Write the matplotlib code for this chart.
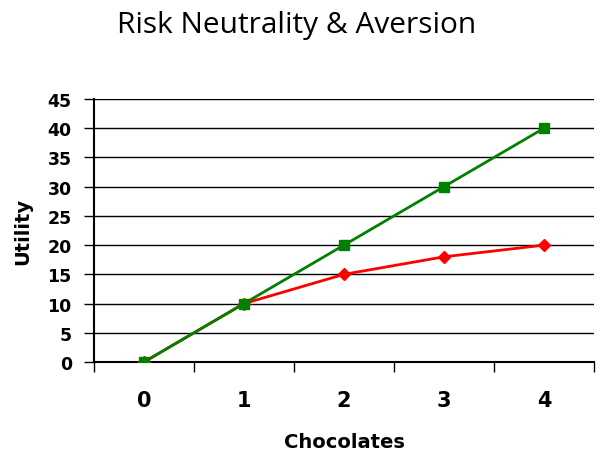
import matplotlib
matplotlib.use("Agg")
import matplotlib.pyplot as plt
import numpy as np

chocolates = [0, 1, 2, 3, 4]
neutral = [0, 10, 20, 30, 40]
averse = [0, 10, 15, 18, 20]
yticks = [0, 5, 10, 15, 20, 25, 30, 35, 40, 45]

plt.rcParams["font.family"] = "DejaVu Sans"
plt.rcParams["font.weight"] = "bold"

fig = plt.figure(figsize=(6.01, 4.52), dpi=100)
ax = fig.add_axes([94 / 601, 1 - 363 / 452, 500 / 601, 263 / 452])

x = np.arange(len(chocolates))
ax.plot(x, averse, color="#ff0000", lw=2, marker="D", ms=6, zorder=3)
ax.plot(x, neutral, color="#008000", lw=2, marker="s", ms=6.5, zorder=4)

ax.set_xlim(-0.5, len(chocolates) - 0.5)
ax.set_ylim(0, 45)
ax.set_yticks(yticks)
ax.set_yticklabels([str(v) for v in yticks])
# category ticks sit between the points, labels in the middle
ax.set_xticks(np.arange(-0.5, len(chocolates), 1.0))
ax.set_xticklabels([])
ax.set_xticks(x, minor=True)
ax.set_xticklabels([str(c) for c in chocolates], minor=True)
ax.tick_params(axis="x", which="minor", length=0, pad=20, labelsize=15)
ax.tick_params(axis="x", which="major", length=7, width=1, direction="out")
ax.tick_params(axis="y", length=7, width=1, direction="out", pad=9, labelsize=12.5)

ax.grid(axis="y", color="black", lw=1)
ax.spines["top"].set_visible(False)
ax.spines["right"].set_visible(False)
ax.spines["left"].set_linewidth(1.5)
ax.spines["bottom"].set_linewidth(1.5)

ax.set_xlabel("Chocolates", fontweight="bold", fontsize=14, labelpad=16)
ax.set_ylabel("Utility", fontweight="bold", fontsize=14, labelpad=11)

fig.text(297 / 601, 1 - 26 / 452, "Risk Neutrality & Aversion", ha="center", va="center",
         fontfamily="Open Sans", fontweight="normal", fontsize=21.5)

fig.savefig("out.png", dpi=100)
